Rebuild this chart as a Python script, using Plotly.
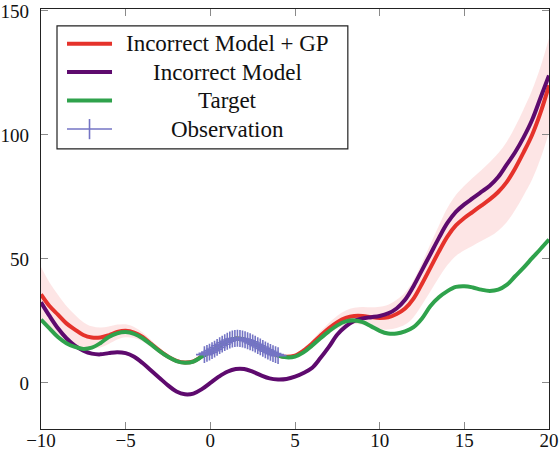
import plotly.graph_objects as go

# ---------------- data ----------------
x_grid = [-10, -9.5, -9, -8.5, -8, -7.5, -7, -6.5, -6, -5.5, -5, -4.5, -4, -3.5, -3, -2.5, -2, -1.5, -1, -0.5,
          0, 0.5, 1, 1.5, 2, 2.5, 3, 3.5, 4, 4.5, 5, 5.5, 6, 6.5, 7, 7.5, 8, 8.5, 9, 9.5,
          10, 10.5, 11, 11.5, 12, 12.5, 13, 13.5, 14, 14.5, 15, 15.5, 16, 16.5, 17, 17.5, 18, 18.5, 19, 19.5, 20]

target = [25.5, 22, 18.5, 16, 14.5, 13.7, 14.2, 16, 18.5, 20, 20.5, 19.8, 18, 15.5, 12.8, 10.5, 8.8, 8.1, 8.6, 10.6,
          12.5, 14.6, 16.8, 17.9, 17.5, 16.1, 14.3, 12.5, 11.0, 10.3, 10.6, 12.3, 15, 18, 20.8, 23.2, 24.8, 25.2, 24.5, 22.8,
          21, 19.9, 19.9, 20.8, 22.5, 26, 31, 34.5, 37, 38.7, 39, 38.5, 37.6, 37.1, 37.6, 39.5, 43, 46.5, 50.3, 54, 57.8]

incorrect_model = [32.5, 27, 22, 18, 15, 13, 11.8, 11.5, 12, 12.4, 12, 10.5, 8, 5, 2, -1, -3.5, -4.6, -4.3, -2.5,
                   0, 2.5, 4.5, 5.6, 5.6, 4.5, 3, 1.8, 1.4, 1.6, 2.5, 4, 6, 10, 14.5, 19.5, 22.8, 25, 26, 26.5,
                   27, 28, 30, 33.5, 39, 45.5, 52, 58.5, 64.5, 69, 72, 74.5, 77, 79.5, 83, 88, 93, 99, 106, 115, 124]

model_gp = [35.7, 31, 27.5, 24, 21.5, 19.3, 18.3, 18.3, 19.2, 20.5, 21, 20.3, 18.5, 15.8, 13, 10.6, 8.9, 8.2, 8.7, 10.7,
            12.5, 14.6, 16.8, 17.9, 17.5, 16.1, 14.3, 12.5, 11.0, 10.5, 11, 13, 15.8, 19, 22, 24.5, 26.2, 27, 27, 26.5,
            26.2, 26.5, 27.8, 30, 34, 40, 46.5, 53, 59, 63.5, 66.5, 69, 71.5, 74, 77, 81, 86.5, 93, 100, 109, 120]

gp_band = [11, 9.5, 8, 7, 6, 5.2, 4.5, 4, 3.5, 3, 2.6, 2.2, 1.8, 1.5, 1.2, 1, 0.8, 0.6, 0.5, 0.3,
           0.3, 0.3, 0.3, 0.3, 0.3, 0.3, 0.3, 0.3, 0.3, 0.5, 0.8, 1.1, 1.4, 1.8, 2.2, 2.6, 3, 3.3, 3.6, 4,
           4.5, 5, 5.7, 6.5, 7.5, 8.5, 9.5, 10.5, 11.5, 12.3, 13, 13.7, 14.3, 15, 15.6, 16.2, 16.8, 17.4, 18, 18.5, 19]

obs_x = [-0.35, -0.2, -0.05, 0.1, 0.25, 0.4, 0.55, 0.7, 0.85, 1.0, 1.15, 1.3, 1.45, 1.6, 1.75,
         1.9, 2.05, 2.2, 2.35, 2.5, 2.65, 2.8, 2.95, 3.1, 3.25, 3.4, 3.55, 3.7, 3.85, 4.0]
obs_y = [11.4, 11.9, 12.4, 13.0, 13.6, 14.3, 15.0, 15.6, 16.2, 16.8, 17.3, 17.7, 17.9, 18.0, 17.9,
         17.7, 17.4, 17.0, 16.6, 16.1, 15.6, 15.0, 14.5, 13.9, 13.3, 12.8, 12.3, 11.8, 11.4, 11.0]

series_names = ["Incorrect Model + GP", "Incorrect Model", "Target", "Observation"]
x_ticks = [-10, -5, 0, 5, 10, 15, 20]
y_ticks = [0, 50, 100, 150]

# ---------------- styles ----------------
C_RED = "#e5322b"
C_PURPLE = "#5e0a6e"
C_GREEN = "#2fa24c"
C_OBS = "#7474c4"
C_BAND = "rgba(252,218,218,0.7)"
FONT = "Liberation Serif"

upper = [m + b for m, b in zip(model_gp, gp_band)]
lower = [m - b for m, b in zip(model_gp, gp_band)]

fig = go.Figure()
fig.add_trace(go.Scatter(x=x_grid, y=upper, mode="lines", line=dict(width=0, shape="spline"),
                         showlegend=False, hoverinfo="skip"))
fig.add_trace(go.Scatter(x=x_grid, y=lower, mode="lines", line=dict(width=0, shape="spline"),
                         fill="tonexty", fillcolor=C_BAND, showlegend=False, hoverinfo="skip"))
fig.add_trace(go.Scatter(x=x_grid, y=model_gp, mode="lines", name=series_names[0],
                         line=dict(color=C_RED, width=4, shape="spline"), showlegend=False))
fig.add_trace(go.Scatter(x=x_grid, y=incorrect_model, mode="lines", name=series_names[1],
                         line=dict(color=C_PURPLE, width=4, shape="spline"), showlegend=False))
fig.add_trace(go.Scatter(x=x_grid, y=target, mode="lines", name=series_names[2],
                         line=dict(color=C_GREEN, width=4, shape="spline"), showlegend=False))
fig.add_trace(go.Scatter(x=obs_x, y=obs_y, mode="lines+markers", name=series_names[3],
                         line=dict(color=C_OBS, width=2),
                         marker=dict(symbol="cross-thin", size=12, line=dict(color=C_OBS, width=1.6)),
                         showlegend=False))

# ---------------- custom legend (centered text, like pgfplots) ----------------
lx0, lx1, ly0, ly1 = 0.0315, 0.604, 0.667, 0.960
row_y = [0.917, 0.850, 0.782, 0.714]
sample_x0, sample_x1 = 0.0512, 0.1398
text_x = 0.368
colors = [C_RED, C_PURPLE, C_GREEN, C_OBS]
widths = [4, 4, 4, 1.5]
shapes = [dict(type="rect", xref="paper", yref="paper", x0=lx0, x1=lx1, y0=ly0, y1=ly1,
               line=dict(color="#222222", width=1.2), fillcolor="white", layer="above")]
annotations = []
for name, yy, col, w in zip(series_names, row_y, colors, widths):
    shapes.append(dict(type="line", xref="paper", yref="paper", x0=sample_x0, x1=sample_x1, y0=yy, y1=yy,
                       line=dict(color=col, width=w), layer="above"))
    annotations.append(dict(xref="paper", yref="paper", x=text_x, y=yy, text=name, showarrow=False,
                            xanchor="center", yanchor="middle",
                            font=dict(family=FONT, size=23, color="#111111")))
cx = (sample_x0 + sample_x1) / 2
shapes.append(dict(type="line", xref="paper", yref="paper", x0=cx, x1=cx,
                   y0=row_y[3] - 0.024, y1=row_y[3] + 0.024,
                   line=dict(color=C_OBS, width=1.6), layer="above"))

axis_common = dict(showgrid=False, zeroline=False, showline=True, linecolor="#222222", linewidth=1.2,
                   mirror="ticks", ticks="inside", ticklen=7, tickcolor="#8a8a8a", tickwidth=1,
                   ticklabeloverflow="allow", automargin=False,
                   tickfont=dict(family=FONT, size=19, color="#111111"))

fig.update_layout(
    width=560, height=453,
    margin=dict(l=41, r=11, t=9, b=24),
    paper_bgcolor="white", plot_bgcolor="white",
    xaxis=dict(range=[-10, 20], tickvals=x_ticks, ticklabelstandoff=-6, **axis_common),
    yaxis=dict(range=[-18.6, 150.8], tickvals=y_ticks, ticklabelstandoff=7, **axis_common),
    shapes=shapes, annotations=annotations,
    showlegend=False,
)

fig.write_html("out.html")
